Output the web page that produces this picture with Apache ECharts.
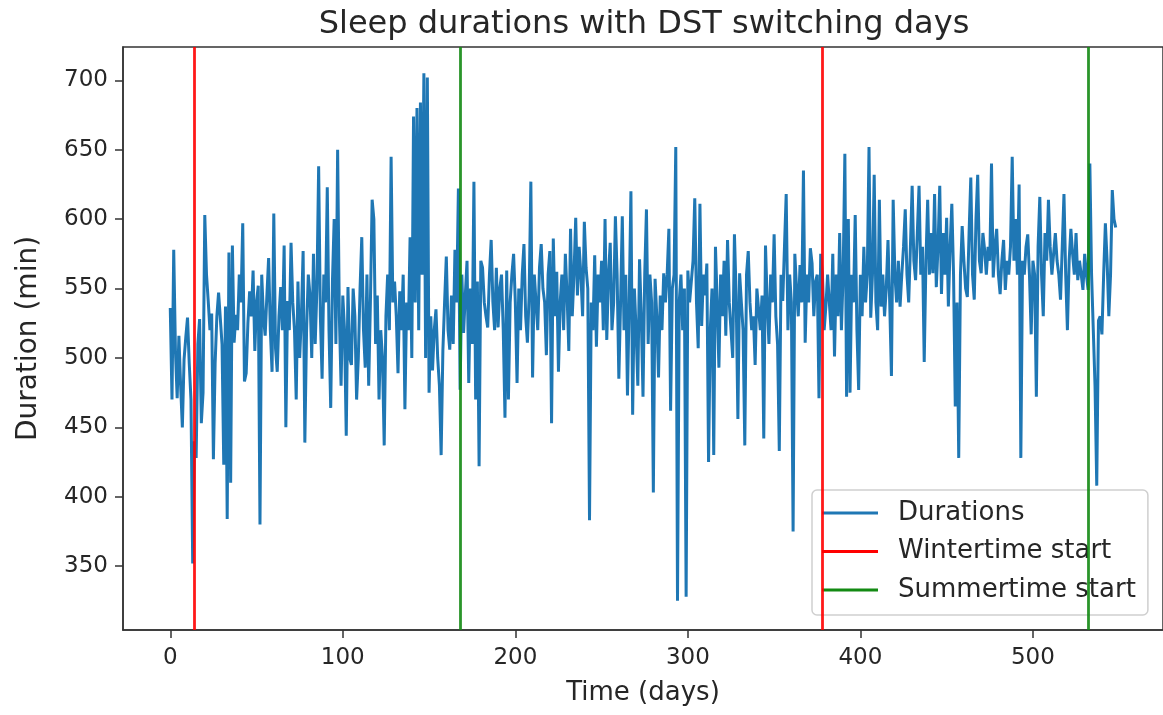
<!DOCTYPE html>
<html>
<head>
<meta charset="utf-8">
<script src="https://cdn.jsdelivr.net/npm/echarts@6/dist/echarts.min.js"></script>
<style>
html,body{margin:0;padding:0;background:#ffffff;}
#chart{width:1163px;height:715px;}
</style>
</head>
<body>
<div id="chart"></div>
<script>
// Sleep duration (minutes) per day
const durations = [
  536, 470, 578, 505, 471, 516, 480, 450, 499, 515,
  529, 496, 470, 352, 440, 428, 510, 528, 453, 475,
  603, 560, 541, 520, 532, 427, 496, 530, 547, 548,
  510, 423, 537, 384, 576, 410, 581, 511, 531, 520,
  560, 540, 597, 483, 489, 525, 548, 530, 563, 505,
  540, 552, 380, 560, 530, 516, 545, 572, 520, 490,
  604, 507, 490, 530, 551, 520, 581, 450, 541, 520,
  583, 540, 520, 470, 555, 500, 530, 577, 439, 520,
  560, 545, 500, 575, 510, 550, 638, 530, 485, 560,
  540, 623, 520, 464, 555, 600, 510, 650, 530, 480,
  545, 520, 444, 551, 500, 495, 550, 530, 470, 500,
  550, 587, 520, 493, 560, 480, 540, 614, 600, 510,
  545, 470, 520, 500, 437, 530, 560, 520, 645, 540,
  555, 530, 489, 548, 520, 560, 463, 540, 520, 587,
  500, 674, 540, 680, 520, 684, 560, 705, 500, 702,
  475, 530, 491, 520, 535, 500, 480, 430, 505, 540,
  573, 520, 506, 545, 510, 578, 540, 622, 477, 560,
  518, 545, 570, 482, 550, 510, 627, 470, 555, 422,
  570, 565, 540, 530, 522, 560, 585, 540, 520, 565,
  522, 550, 560, 520, 457, 563, 470, 540, 560, 575,
  540, 482, 550, 520, 560, 582, 530, 511, 545, 627,
  486, 560, 540, 520, 565, 582, 550, 540, 502, 560,
  577, 453, 586, 530, 562, 490, 540, 560, 520, 575,
  545, 505, 593, 530, 560, 601, 545, 580, 560, 530,
  598, 565, 550, 383, 540, 520, 574, 508, 560, 540,
  570, 520, 600, 513, 560, 583, 520, 540, 602, 560,
  485, 540, 602, 520, 560, 473, 540, 620, 459, 550,
  520, 480, 571, 530, 472, 560, 607, 510, 560, 540,
  403, 557, 530, 486, 545, 520, 561, 540, 560, 593,
  462, 550, 560, 652, 325, 540, 560, 520, 550, 328,
  563, 540, 539, 570, 615, 540, 507, 611, 523, 560,
  545, 568, 425, 520, 550, 430, 580, 540, 493, 560,
  530, 570, 516, 585, 540, 520, 500, 589, 545, 456,
  561, 540, 520, 437, 560, 577, 540, 520, 530, 495,
  550, 535, 520, 545, 442, 581, 540, 510, 560, 540,
  589, 530, 510, 433, 560, 541, 580, 618, 520, 560,
  540, 375, 575, 550, 530, 567, 540, 635, 511, 560,
  540, 579, 568, 530, 555, 560, 471, 575, 560, 520,
  537, 560, 540, 520, 575, 501, 560, 530, 590, 520,
  560, 647, 472, 600, 475, 560, 540, 603, 520, 477,
  560, 530, 580, 540, 560, 652, 529, 560, 632, 540,
  520, 614, 537, 560, 530, 550, 585, 540, 487, 614,
  560, 540, 570, 537, 560, 580, 607, 560, 540, 580,
  624, 570, 556, 590, 624, 560, 580, 497, 570, 614,
  560, 590, 561, 618, 551, 580, 624, 546, 590, 560,
  601, 537, 580, 611, 560, 465, 540, 428, 560, 595,
  570, 550, 544, 590, 630, 560, 542, 600, 632, 570,
  561, 590, 578, 560, 580, 570, 640, 558, 580, 593,
  560, 546, 570, 585, 549, 570, 560, 580, 645, 570,
  600, 560, 625, 428, 570, 560, 580, 589, 560, 517,
  570, 560, 472, 580, 616, 560, 530, 590, 570, 614,
  580, 560, 561, 590, 570, 560, 542, 580, 618, 560,
  520, 570, 593, 575, 560, 590, 556, 570, 560, 549,
  575, 560, 549, 640, 560, 520, 480, 408, 527, 530,
  517, 560, 597, 570, 530, 560, 621, 600, 594
];
// DST switching days (day index)
const winterStarts = [14, 378];
const summerStarts = [168, 532];
// Tick labels
const xTicks = [0, 100, 200, 300, 400, 500];
const yTicks = [350, 400, 450, 500, 550, 600, 650, 700];
// Texts
const titleText = 'Sleep durations with DST switching days';
const xName = 'Time (days)';
const yName = 'Duration (min)';
const seriesNames = ['Durations', 'Wintertime start', 'Summertime start'];

const FONT = 'DejaVu Sans';
const TXT = '#262626';
const AX = '#333333';
const BLUE = '#1f77b4', RED = '#ff0000', GREEN = '#138a13';

const n = durations.length;
const lineData = durations.map((v, i) => [i, v]);

const chart = echarts.init(document.getElementById('chart'), null, {renderer: 'canvas'});
chart.setOption({
  animation: false,
  backgroundColor: '#ffffff',
  title: {
    text: titleText,
    left: 644, top: 9, textAlign: 'center', padding: 0,
    textStyle: {fontFamily: FONT, fontSize: 32, fontWeight: 'normal', color: TXT}
  },
  grid: {
    left: 123, top: 47, width: 1044, height: 583,
    show: true, borderColor: AX, borderWidth: 1.5, backgroundColor: 'transparent',
    containLabel: false
  },
  legend: {
    orient: 'vertical', left: 812, top: 490,
    padding: [10, 12, 12, 10],
    itemWidth: 56, itemHeight: 3, itemGap: 12.5,
    icon: 'rect', selectedMode: false,
    backgroundColor: 'rgba(255,255,255,0.8)',
    borderColor: '#cfcfcf', borderWidth: 1.5, borderRadius: 5,
    data: seriesNames,
    formatter: function (name) { return '{t|' + name + '}'; },
    textStyle: {
      fontFamily: FONT, fontSize: 26, color: TXT, lineHeight: 26,
      rich: {t: {fontFamily: FONT, fontSize: 26, color: TXT, lineHeight: 26, padding: [0, 0, 0, 15]}}
    }
  },
  xAxis: {
    type: 'value', min: -0.05 * (n - 1), max: 1.05 * (n - 1),
    name: xName, nameLocation: 'middle', nameGap: 50,
    nameTextStyle: {fontFamily: FONT, fontSize: 26, color: TXT},
    axisLine: {show: true, onZero: false, lineStyle: {color: AX, width: 1.5}},
    axisTick: {show: true, length: 8, lineStyle: {color: AX, width: 1.5}, customValues: xTicks},
    axisLabel: {show: true, margin: 17, fontFamily: FONT, fontSize: 23, color: TXT, customValues: xTicks},
    splitLine: {show: false}
  },
  yAxis: {
    type: 'value', min: 304, max: 724,
    name: yName, nameLocation: 'middle', nameGap: 80, nameRotate: 90,
    nameTextStyle: {fontFamily: FONT, fontSize: 28, color: TXT},
    axisLine: {show: true, onZero: false, lineStyle: {color: AX, width: 1.5}},
    axisTick: {show: true, length: 8, lineStyle: {color: AX, width: 1.5}, customValues: yTicks},
    axisLabel: {show: true, margin: 15, fontFamily: FONT, fontSize: 23, color: TXT, customValues: yTicks},
    splitLine: {show: false}
  },
  series: [
    {
      name: seriesNames[0], type: 'line', data: lineData,
      showSymbol: false, symbol: 'none', color: BLUE,
      lineStyle: {color: BLUE, width: 3}, itemStyle: {color: BLUE},
      z: 2, silent: true, clip: true
    },
    {
      name: seriesNames[1], type: 'line', data: [], color: RED,
      lineStyle: {color: RED, width: 3}, itemStyle: {color: RED}, z: 3,
      markLine: {
        silent: true, symbol: ['none', 'none'], label: {show: false},
        lineStyle: {color: RED, width: 2.8, type: 'solid', opacity: 0.9},
        emphasis: {disabled: true},
        data: winterStarts.map(d => ({xAxis: d}))
      }
    },
    {
      name: seriesNames[2], type: 'line', data: [], color: GREEN,
      lineStyle: {color: GREEN, width: 3}, itemStyle: {color: GREEN}, z: 3,
      markLine: {
        silent: true, symbol: ['none', 'none'], label: {show: false},
        lineStyle: {color: GREEN, width: 2.8, type: 'solid', opacity: 0.9},
        emphasis: {disabled: true},
        data: summerStarts.map(d => ({xAxis: d}))
      }
    }
  ]
});
</script>
</body>
</html>
